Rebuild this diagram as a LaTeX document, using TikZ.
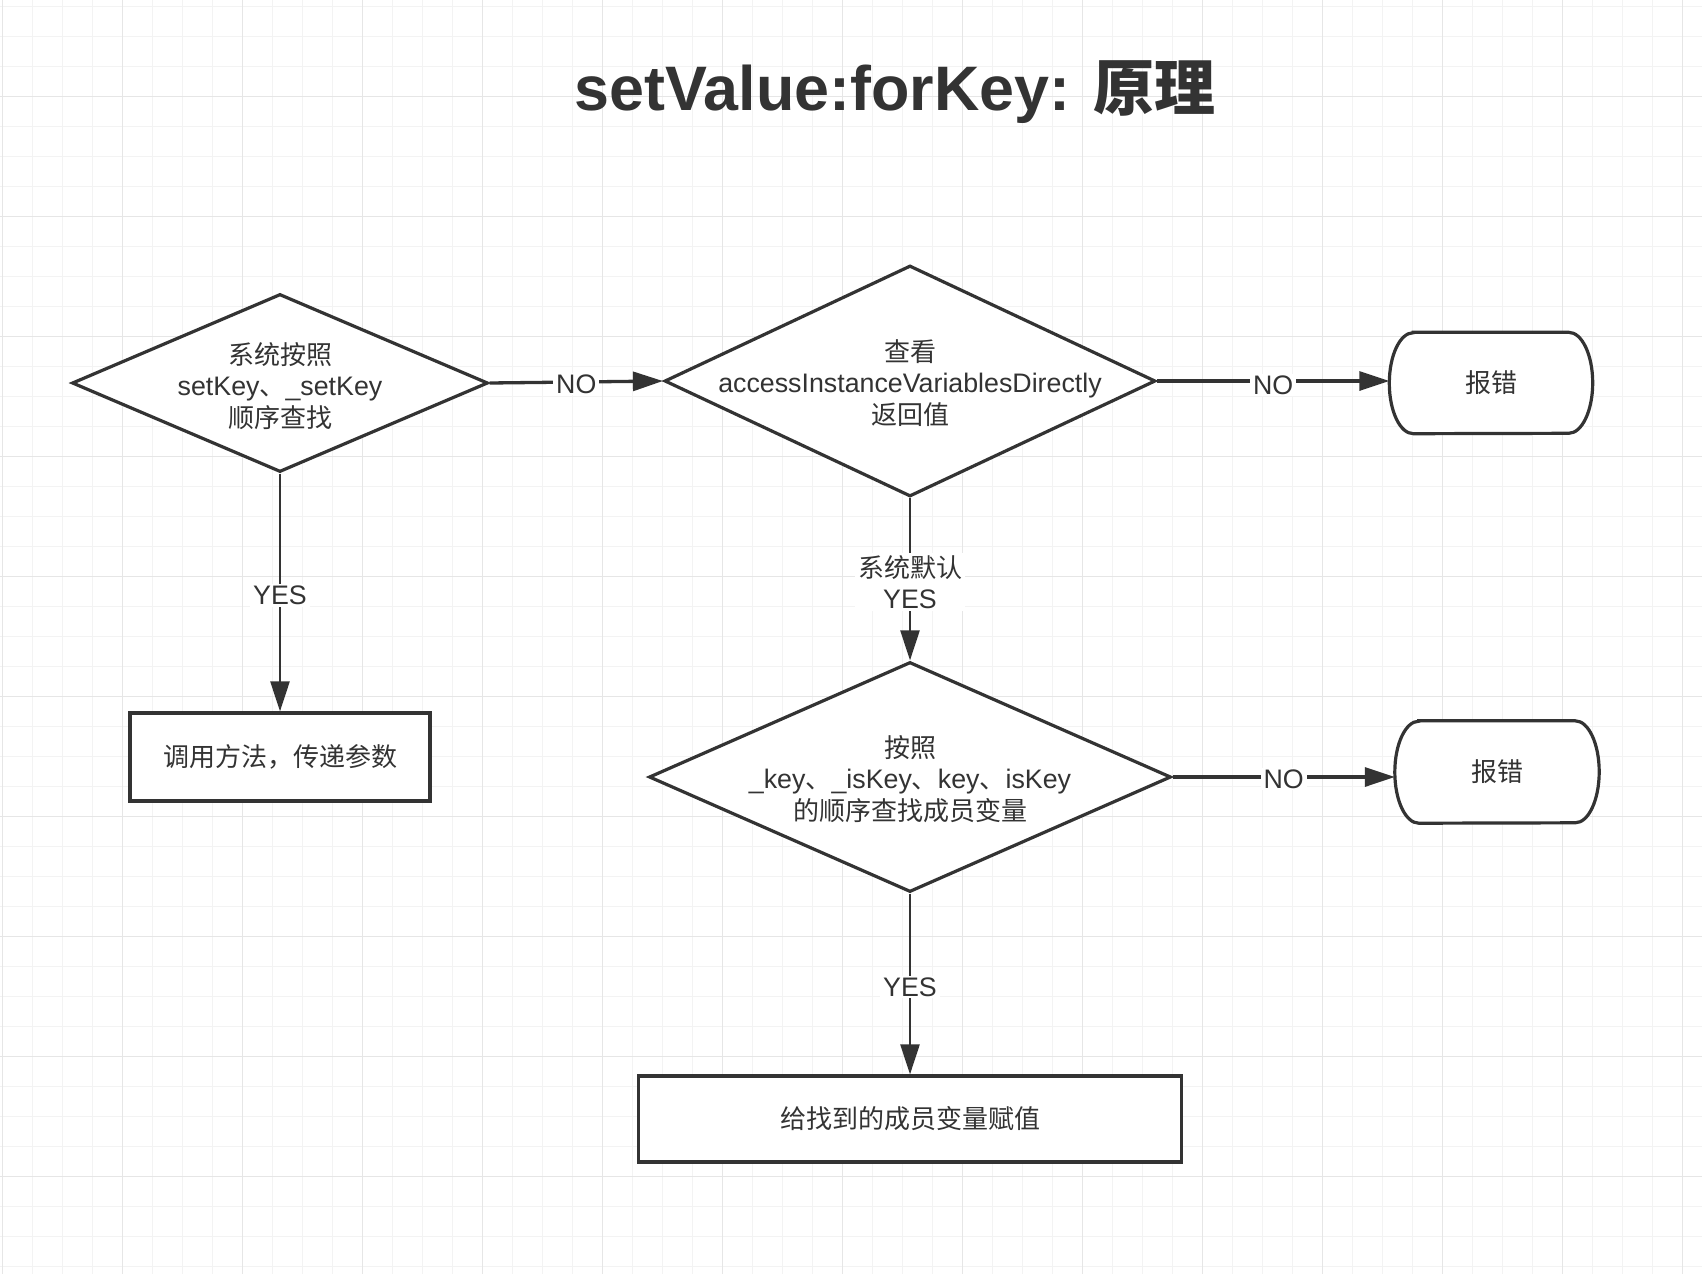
\documentclass[tikz,border=0pt]{standalone}
\usepackage{fontspec}
\setmainfont{Liberation Sans}[Scale=1.03]
\newfontfamily\cjkf{Noto Sans CJK SC}
\usetikzlibrary{shapes.geometric,arrows.meta}
\newcommand\zhtxt[1]{{\cjkf #1}}
\definecolor{ink}{HTML}{333333}
\definecolor{gridminor}{HTML}{F3F3F3}
\definecolor{gridmajor}{HTML}{E6E6E6}
\tikzset{
  shapeline/.style={draw=ink, line width=3.2pt, fill=white},
  dia/.style={shapeline, diamond, inner sep=0pt},
  boxnode/.style={shapeline, rectangle, inner sep=0pt},
  termbox/.style={rectangle, inner sep=0pt},
  txt/.style={text=ink, align=center, font=\fontsize{26pt}{31.5pt}\selectfont, inner sep=0pt},
  lbl/.style={txt, fill=white, inner xsep=3pt, inner ysep=2pt},
  hconn/.style={draw=ink, line width=3.3pt, -{Triangle[length=30pt,width=19pt]}},
  vconn/.style={draw=ink, line width=2.4pt, -{Triangle[length=30pt,width=19pt]}},
}
\begin{document}
\begin{tikzpicture}[x=1pt,y=-1pt]
\useasboundingbox[fill=white] (0,0) rectangle (1702,1274);
% grid
\foreach \i in {0,...,56}{
  \draw[gridminor, line width=1.5pt] ({2.7+30*\i},0) -- ({2.7+30*\i},1274);
}
\foreach \i in {0,...,42}{
  \draw[gridminor, line width=1.5pt] (0,{6.7+30*\i}) -- (1702,{6.7+30*\i});
}
\foreach \i in {0,...,14}{
  \draw[gridmajor, line width=1.5pt] ({2.7+120*\i},0) -- ({2.7+120*\i},1274);
}
\foreach \i in {0,...,10}{
  \draw[gridmajor, line width=1.5pt] (0,{-23.3+120*\i}) -- (1702,{-23.3+120*\i});
}
% title
\node[anchor=base, text=ink, inner sep=0pt, font=\fontsize{61pt}{70pt}\selectfont\bfseries] (title) at (895,110) {setValue:forKey: \zhtxt{原理}};
% shapes
\node[dia, minimum width=416pt, minimum height=178pt] (d0) at (280,383) {};
\node[txt] (d0t) at (280,386) {\zhtxt{系统按照}\\setKey\zhtxt{、}\_setKey\\\zhtxt{顺序查找}};
\node[dia, minimum width=491pt, minimum height=231pt] (d1) at (910,381) {};
\node[txt] (d1t) at (910,383) {\zhtxt{查看}\\accessInstanceVariablesDirectly\\\zhtxt{返回值}};
\node[dia, minimum width=522pt, minimum height=230pt] (d2) at (910,777) {};
\node[txt] (d2t) at (910,779) {\zhtxt{按照}\\\_key\zhtxt{、}\_isKey\zhtxt{、}key\zhtxt{、}isKey\\\zhtxt{的顺序查找成员变量}};
\node[boxnode, minimum width=300pt, minimum height=88pt] (r0) at (280,757) {};
\node[txt] (r0t) at (280,757) {\zhtxt{调用方法，传递参数}};
\node[boxnode, minimum width=543pt, minimum height=86pt] (r1) at (910,1119) {};
\node[txt] (r1t) at (910,1119) {\zhtxt{给找到的成员变量赋值}};
% terminators
\node[termbox, minimum width=203pt, minimum height=101pt] (t1) at (1491,383) {};
\draw[shapeline] ([xshift=24pt]t1.north west) -- ([xshift=-24pt]t1.north east)
  arc[start angle=90, end angle=-90, x radius=24pt, y radius=50.5pt]
  -- ([xshift=24pt]t1.south west)
  arc[start angle=270, end angle=90, x radius=24pt, y radius=50.5pt] -- cycle;
\node[txt] (t1t) at (t1) {\zhtxt{报错}};
\node[termbox, minimum width=204pt, minimum height=102pt] (t2) at (1497,772) {};
\draw[shapeline] ([xshift=24pt]t2.north west) -- ([xshift=-24pt]t2.north east)
  arc[start angle=90, end angle=-90, x radius=24pt, y radius=51pt]
  -- ([xshift=24pt]t2.south west)
  arc[start angle=270, end angle=90, x radius=24pt, y radius=51pt] -- cycle;
\node[txt] (t2t) at (t2) {\zhtxt{报错}};
% connectors
\draw[hconn] (d0.east) -- node[lbl, yshift=-2pt] (l1) {NO} (d1.west);
\draw[hconn] (d1.east) -- node[lbl, yshift=-4pt] (l2) {NO} (d1.east -| t1.west);
\draw[hconn] (d2.east) -- node[lbl, yshift=-2pt] (l3) {NO} (d2.east -| t2.west);
\draw[vconn] (d0.south) -- node[lbl, yshift=-3pt] (l4) {YES} (r0.north);
\draw[vconn] (d1.south) -- node[lbl, yshift=-3pt] (l5) {\zhtxt{系统默认}\\YES} (d2.north);
\draw[vconn] (d2.south) -- node[lbl, yshift=-3pt] (l6) {YES} (r1.north);
\end{tikzpicture}
\end{document}
